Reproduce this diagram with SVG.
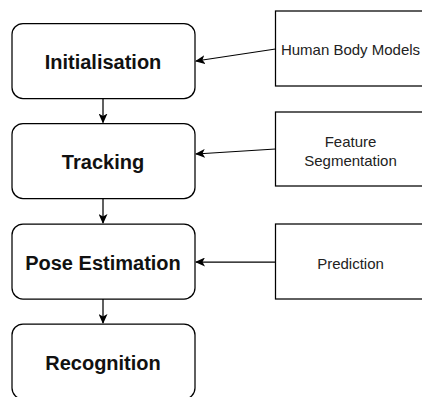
<svg xmlns="http://www.w3.org/2000/svg" width="422" height="397" viewBox="0 0 422 397">
<style>
.step{fill:#fff;stroke:#000;stroke-width:1.25}
.src{fill:#fff;stroke:#000;stroke-width:1.25}
.bold{font-family:"Liberation Sans",Arial,sans-serif;font-size:20px;font-weight:bold;fill:#111;text-anchor:middle}
.reg{font-family:"Liberation Sans",Arial,sans-serif;font-size:15px;fill:#222;text-anchor:middle}
.edge{fill:none;stroke:#000;stroke-width:1.25}
</style>
<defs>
<marker id="arr" viewBox="0 0 10 10" refX="9" refY="5" markerWidth="10" markerHeight="9" markerUnits="userSpaceOnUse" orient="auto" preserveAspectRatio="none">
<path d="M0,0 L10,5 L0,10 L2.5,5 Z" fill="#000"/>
</marker>
</defs>
<rect width="422" height="397" fill="#fff"/>
<g id="initialisation">
<rect class="step" x="12" y="23.5" width="183" height="75" rx="11" ry="11"/>
<text class="bold" x="103" y="69">Initialisation</text>
</g>
<g id="tracking">
<rect class="step" x="12" y="123.5" width="183" height="75" rx="11" ry="11"/>
<text class="bold" x="103" y="169">Tracking</text>
</g>
<g id="pose-estimation">
<rect class="step" x="12" y="224" width="183" height="75" rx="11" ry="11"/>
<text class="bold" x="103" y="269.5">Pose Estimation</text>
</g>
<g id="recognition">
<rect class="step" x="12" y="324" width="183" height="75" rx="11" ry="11"/>
<text class="bold" x="103" y="370">Recognition</text>
</g>
<g id="human-body-models">
<rect class="src" x="275.5" y="11" width="150" height="75"/>
<text class="reg" x="350.5" y="55">Human Body Models</text>
</g>
<g id="feature-segmentation">
<rect class="src" x="275.5" y="112" width="150" height="74"/>
<text class="reg" x="350.5" y="146.5">Feature</text>
<text class="reg" x="350.5" y="165.5">Segmentation</text>
</g>
<g id="prediction">
<rect class="src" x="275.5" y="224" width="150" height="75"/>
<text class="reg" x="350.5" y="269">Prediction</text>
</g>
<g id="connectors">
<path class="edge" d="M103,98.5 L103,122.5" marker-end="url(#arr)"/>
<path class="edge" d="M103,198.5 L103,223" marker-end="url(#arr)"/>
<path class="edge" d="M103,299 L103,323" marker-end="url(#arr)"/>
<path class="edge" d="M275.5,49 L196,61" marker-end="url(#arr)"/>
<path class="edge" d="M275.5,149 L196,154" marker-end="url(#arr)"/>
<path class="edge" d="M275.5,262 L196,262" marker-end="url(#arr)"/>
</g>
</svg>
